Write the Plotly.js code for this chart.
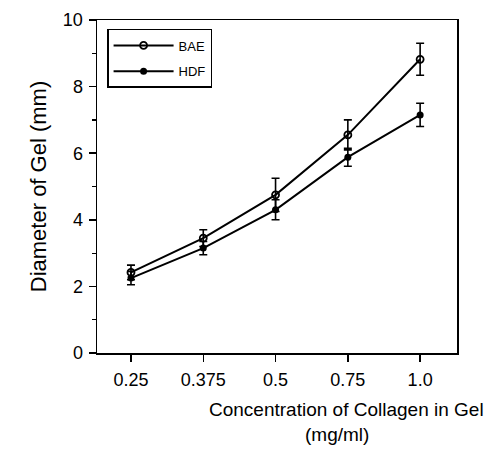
<!DOCTYPE html>
<html>
<head>
<meta charset="utf-8">
<script src="https://cdn.plot.ly/plotly-3.0.1.min.js"></script>
<style>html,body{margin:0;padding:0;background:#fff;}</style>
</head>
<body>
<div id="chart" style="width:490px;height:462px;"></div>
<script>
const categories = ["0.25", "0.375", "0.5", "0.75", "1.0"];
const baeValues = [2.42, 3.45, 4.75, 6.55, 8.82];
const baeErrors = [0.22, 0.25, 0.5, 0.45, 0.48];
const hdfValues = [2.25, 3.15, 4.3, 5.88, 7.15];
const hdfErrors = [0.2, 0.2, 0.3, 0.27, 0.35];
const yTicks = [0, 2, 4, 6, 8, 10];

const font = "Liberation Sans, Arial, sans-serif";

const traces = [
  {
    x: categories, y: baeValues, name: "BAE", type: "scatter", mode: "lines+markers",
    legendgroup: "a",
    line: {color: "#000", width: 2},
    marker: {symbol: "circle-open", size: 7, color: "#000", line: {width: 1.8, color: "#000"}},
    error_y: {type: "data", array: baeErrors, visible: true, color: "#000", thickness: 1.6, width: 4}
  },
  {
    x: categories, y: hdfValues, name: "HDF", type: "scatter", mode: "lines+markers",
    legendgroup: "b",
    line: {color: "#000", width: 2},
    marker: {symbol: "circle", size: 7, color: "#000"},
    error_y: {type: "data", array: hdfErrors, visible: true, color: "#000", thickness: 1.6, width: 4}
  }
];

const layout = {
  width: 490, height: 462,
  margin: {l: 97, r: 33, t: 20, b: 109},
  paper_bgcolor: "#fff", plot_bgcolor: "#fff",
  font: {family: font, color: "#000", size: 18},
  showlegend: true,
  legend: {
    x: 0.028, y: 0.973, xanchor: "left", yanchor: "top",
    bordercolor: "#000", borderwidth: 1.5, bgcolor: "#fff",
    font: {size: 13, family: font},
    traceorder: "grouped", tracegroupgap: 6,
    itemwidth: 60
  },
  xaxis: {
    type: "category", range: [-0.47, 4.51],
    showline: true, linecolor: "#000", linewidth: 1.5, mirror: true,
    ticks: "outside", ticklen: 7, tickwidth: 1.5, tickcolor: "#000",
    ticklabelstandoff: 3,
    showgrid: false, zeroline: false,
    tickfont: {size: 18}
  },
  yaxis: {
    range: [0, 10], tickvals: yTicks,
    showline: true, linecolor: "#000", linewidth: 1.5, mirror: true,
    ticks: "outside", ticklen: 7, tickwidth: 1.5, tickcolor: "#000",
    ticklabelstandoff: 2,
    minor: {dtick: 1, ticks: "outside", ticklen: 4, tickwidth: 1.2, tickcolor: "#000", showgrid: false},
    showgrid: false, zeroline: false,
    tickfont: {size: 18},
    title: {text: "Diameter of Gel (mm)", font: {size: 22}, standoff: 10}
  },
  annotations: [
    {text: "Concentration of Collagen in Gel", xref: "paper", yref: "paper",
     x: 0.694, y: -0.17, xanchor: "center", yanchor: "middle", showarrow: false,
     font: {size: 19}},
    {text: "(mg/ml)", xref: "paper", yref: "paper",
     x: 0.667, y: -0.245, xanchor: "center", yanchor: "middle", showarrow: false,
     font: {size: 19}}
  ]
};

Plotly.newPlot("chart", traces, layout, {displayModeBar: false, staticPlot: true});
</script>
</body>
</html>
